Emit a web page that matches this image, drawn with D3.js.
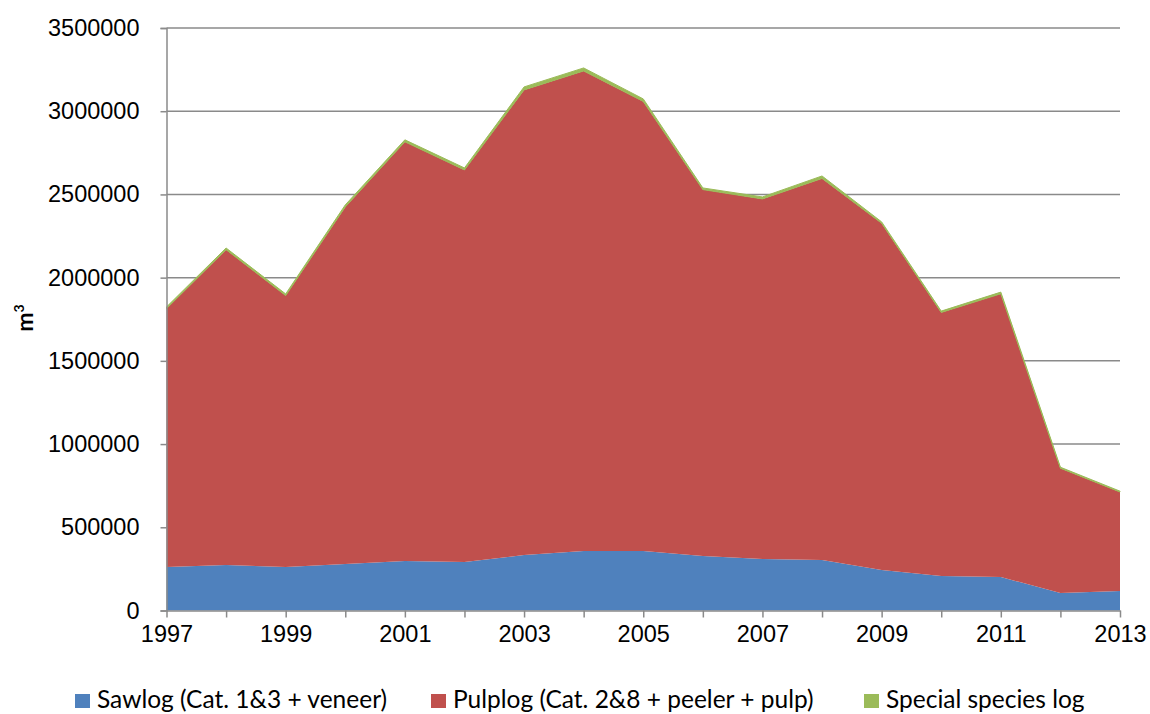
<!DOCTYPE html>
<html>
<head>
    <meta charset="utf-8">
    <style>
        body { margin: 0; background: #fff; }
        svg { font-family: Lato, 'Open Sans', sans-serif; }
        .tick text { fill: #000; }
    </style>
</head>
<body>
<svg width="1150" height="714"></svg>
<script src="https://d3js.org/d3.v7.min.js"></script>
<script>

    let years = [1997, 1998, 1999, 2000, 2001, 2002, 2003, 2004, 2005, 2006, 2007, 2008, 2009, 2010, 2011, 2012, 2013];
    let sawlog = [261000, 273000, 262000, 280000, 297000, 292000, 333000, 357000, 357000, 327000, 309000, 303000, 243000, 207000, 201000, 105000, 117000];
    let pulplog = [1553000, 1895000, 1630000, 2145000, 2519000, 2355000, 2795000, 2885000, 2702000, 2202000, 2164000, 2293000, 2084000, 1584000, 1702000, 750000, 595000];
    let special = [10000, 10000, 10000, 12000, 12000, 12000, 18000, 18000, 15000, 10000, 12000, 15000, 8000, 8000, 10000, 6000, 5000];
    let seriesNames = ["Sawlog (Cat. 1&3 + veneer)", "Pulplog (Cat. 2&8 + peeler + pulp)", "Special species log"];
    let colors = ["#4F81BD", "#C0504D", "#9BBB59"];
    let yTicks = [0, 500000, 1000000, 1500000, 2000000, 2500000, 3000000, 3500000];

    let margin = { top: 28, left: 166.5, right: 30, bottom: 103.5 };
    let width = 1150;
    let height = 714;

    let svg = d3.select("svg");

    let x = d3.scaleLinear()
        .domain([1997, 2013])
        .range([margin.left, width - margin.right]);

    let y = d3.scaleLinear()
        .domain([0, 3500000])
        .range([height - margin.bottom, margin.top]);

    // gridlines
    svg.append("g")
        .selectAll("line")
        .data(yTicks.slice(1))
        .join("line")
        .attr("x1", margin.left)
        .attr("x2", width - margin.right)
        .attr("y1", d => y(d))
        .attr("y2", d => y(d))
        .style("stroke", "#8a8a8a")
        .style("stroke-width", 1.5);

    let table = years.map((yr, i) => ({ year: yr, s0: sawlog[i], s1: pulplog[i], s2: special[i] }));
    let stack = d3.stack().keys(["s0", "s1", "s2"]);
    let layers = stack(table);

    let area = d3.area()
        .x(d => x(d.data.year))
        .y0(d => y(d[0]))
        .y1(d => y(d[1]));

    svg.append("g")
        .selectAll("path")
        .data(layers)
        .join("path")
        .attr("d", area)
        .style("fill", (d, i) => colors[i])
        .style("stroke", (d, i) => i == 2 ? colors[2] : "none")
        .style("stroke-width", 1);

    // y axis
    let yAxis = svg.append("g")
        .attr("transform", "translate(" + margin.left + ",0)")
        .call(d3.axisLeft(y).tickValues(yTicks).tickFormat(d3.format("d")).tickSize(6).tickPadding(21));
    yAxis.select(".domain").style("stroke", "#8a8a8a").style("stroke-width", 1.5);
    yAxis.selectAll(".tick line").style("stroke", "#8a8a8a").style("stroke-width", 1.5);
    yAxis.selectAll(".tick text").style("font-size", "23.5px");

    // x axis
    let xAxis = svg.append("g")
        .attr("transform", "translate(0," + y(0) + ")")
        .call(d3.axisBottom(x).tickValues(years).tickFormat(d => (d - 1997) % 2 == 0 ? d : "").tickSize(7).tickSizeOuter(0).tickPadding(8));
    xAxis.select(".domain").style("stroke", "#8a8a8a").style("stroke-width", 1.5);
    xAxis.selectAll(".tick line").style("stroke", "#8a8a8a").style("stroke-width", 1.5);
    xAxis.selectAll(".tick text").style("font-size", "23.5px");

    // y label
    let yl = svg.append("text")
        .attr("transform", "translate(33,318) rotate(-90)")
        .attr("text-anchor", "middle")
        .style("font-size", "23px")
        .style("font-weight", "bold");
    yl.append("tspan").text("m");
    yl.append("tspan").attr("dy", -9).style("font-size", "14px").text("3");

    // legend
    let legendX = [75, 431, 864];
    let legend = svg.append("g")
        .selectAll("g")
        .data(seriesNames)
        .join("g")
        .attr("transform", (d, i) => "translate(" + legendX[i] + ",694)");
    legend.append("rect")
        .attr("width", 15)
        .attr("height", 14)
        .style("fill", (d, i) => colors[i]);
    legend.append("text")
        .attr("x", 22)
        .attr("y", 14)
        .style("font-size", "24.5px")
        .text(d => d);

</script>
</body>
</html>
